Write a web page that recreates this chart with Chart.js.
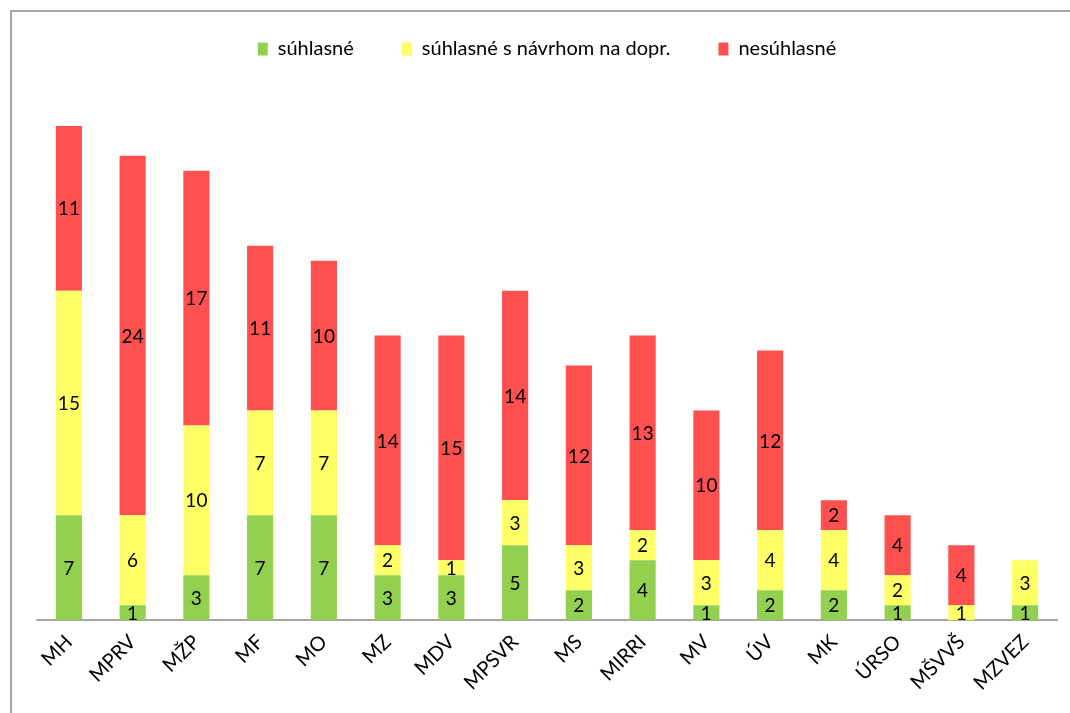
<!DOCTYPE html>
<html>
<head>
<meta charset="utf-8">
<script src="https://cdn.jsdelivr.net/npm/chart.js@4"></script>
<style>
    body { margin: 0; background: #fff; }
    .frame {
        position: absolute; left: 10px; top: 10px;
        width: 1060px; height: 703px;
        border-left: 2px solid #a6a6a6; border-top: 2px solid #a6a6a6;
        box-sizing: border-box;
    }
    .frame canvas { display: block; }
</style>
</head>
<body>
<div class="frame"><canvas id="chart" width="1058" height="701"></canvas></div>
<script>
const categories = ['MH', 'MPRV', 'MŽP', 'MF', 'MO', 'MZ', 'MDV', 'MPSVR', 'MS', 'MIRRI', 'MV', 'ÚV', 'MK', 'ÚRSO', 'MŠVVŠ', 'MZVEZ'];
const agreed = [7, 1, 3, 7, 7, 3, 3, 5, 2, 4, 1, 2, 2, 1, 0, 1];
const agreedWithProposal = [15, 6, 10, 7, 7, 2, 1, 3, 3, 2, 3, 4, 4, 2, 1, 3];
const disagreed = [11, 24, 17, 11, 10, 14, 15, 14, 12, 13, 10, 12, 2, 4, 4, 0];

// numbers in the middle of each segment
const segmentLabels = {
    id: 'segmentLabels',
    afterDatasetsDraw(chart) {
        const ctx = chart.ctx;
        ctx.save();
        ctx.font = '19px Lato';
        ctx.fillStyle = '#000';
        ctx.textAlign = 'center';
        ctx.textBaseline = 'middle';
        chart.data.datasets.forEach((ds, i) => {
            chart.getDatasetMeta(i).data.forEach((bar, j) => {
                const v = ds.data[j];
                if (!v) return;
                ctx.fillText(String(v), bar.x, (bar.y + bar.base) / 2 + 1);
            });
        });
        ctx.restore();
    }
};

new Chart(document.getElementById('chart').getContext('2d'), {
    type: 'bar',
    data: {
        labels: categories,
        datasets: [
            { label: 'súhlasné', data: agreed, backgroundColor: '#92D050' },
            { label: 'súhlasné s návrhom na dopr.', data: agreedWithProposal, backgroundColor: '#FFFF66' },
            { label: 'nesúhlasné', data: disagreed, backgroundColor: '#FF5050' }
        ]
    },
    options: {
        responsive: false,
        animation: false,
        categoryPercentage: 1,
        barPercentage: 0.41,
        layout: { padding: { left: 25, right: 13, top: -21, bottom: 8 } },
        plugins: {
            legend: {
                position: 'top',
                labels: {
                    color: '#000',
                    font: { family: 'Lato', size: 20 },
                    boxWidth: 10,
                    boxHeight: 13,
                    padding: 48
                }
            },
            tooltip: { enabled: false }
        },
        scales: {
            x: {
                stacked: true,
                grid: { display: false, drawTicks: false },
                border: { color: '#a6a6a6', width: 2 },
                ticks: {
                    color: '#000',
                    font: { family: 'Lato', size: 20 },
                    minRotation: 45,
                    maxRotation: 45,
                    padding: 10
                }
            },
            y: {
                stacked: true,
                display: false,
                min: 0,
                max: 36.8
            }
        }
    },
    plugins: [segmentLabels]
});
</script>
</body>
</html>
